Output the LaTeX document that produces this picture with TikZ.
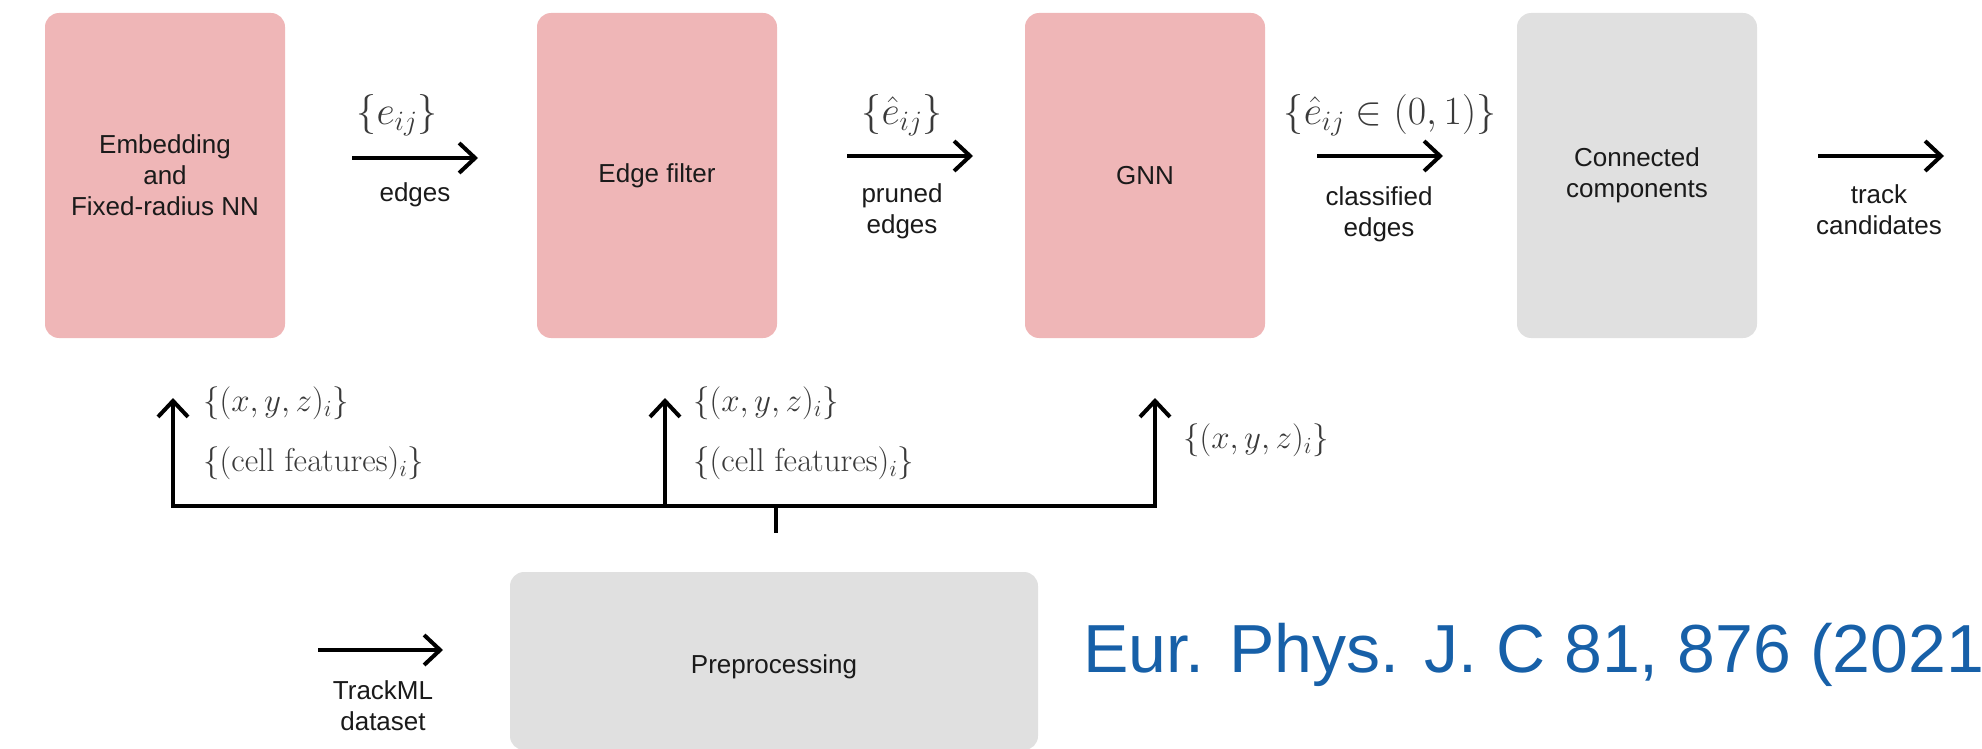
\documentclass[tikz,border=0pt]{standalone}
\usepackage{fix-cm}
\usepackage[no-math]{fontspec}
\newfontfamily\labelsans{Liberation Sans}
\usetikzlibrary{arrows.meta}
\definecolor{pinkbox}{HTML}{EFB6B7}
\definecolor{graybox}{HTML}{E0E0E0}
\definecolor{mathgray}{HTML}{3A3A3A}
\definecolor{citeblue}{HTML}{1760A8}
\definecolor{txt}{HTML}{1A1A1A}
\begin{document}
\begin{tikzpicture}[x=1pt,y=-1pt,
  stage/.style={rounded corners=14pt, minimum width=240pt, minimum height=325pt,
    inner sep=0pt, align=center, text=txt,
    font=\labelsans\fontsize{26}{31}\selectfont},
  pinkstage/.style={stage, fill=pinkbox},
  graystage/.style={stage, fill=graybox},
  flow/.style={line width=4pt, -{Straight Barb[length=16pt,width=30pt]}},
  feed/.style={line width=4.5pt},
  sanslab/.style={inner sep=0pt, align=center, text=txt,
    font=\labelsans\fontsize{26}{31}\selectfont},
  mathbig/.style={inner sep=0pt, text=mathgray, font=\fontsize{40}{48}\selectfont},
  mathsmall/.style={inner sep=0pt, text=mathgray, anchor=west, font=\fontsize{33}{40}\selectfont}
]
\useasboundingbox (0,0) rectangle (1982,749);

% stage boxes
\node[pinkstage] (emb)  at (165,175.5)  {Embedding\\and\\Fixed-radius NN};
\node[pinkstage] (filt) at (657,175.5)  {Edge filter};
\node[pinkstage] (gnn)  at (1145,175.5) {GNN};
\node[graystage] (cc)   at (1637,175.5) {Connected\\components};
\node[stage, fill=graybox, minimum width=528pt, minimum height=178pt] (prep) at (774,661) {\raisebox{-12pt}[0pt][0pt]{Preprocessing}};

% top flow arrows
\coordinate (a1s) at (352,158);  \coordinate (a1e) at (478,158);
\coordinate (a2s) at (847,156);  \coordinate (a2e) at (973,156);
\coordinate (a3s) at (1317,156); \coordinate (a3e) at (1443,156);
\coordinate (a4s) at (1818,156); \coordinate (a4e) at (1944,156);
\draw[flow] (a1s) -- (a1e);
\draw[flow] (a2s) -- (a2e);
\draw[flow] (a3s) -- (a3e);
\draw[flow] (a4s) -- (a4e);

\node[mathbig] (l1m) at (397,115) {$\{e_{ij}\}$};
\node[sanslab] (l1t) at (415,195) {edges};
\node[mathbig] (l2m) at (902,115) {$\{\hat{e}_{ij}\}$};
\node[sanslab] (l2t) at (902,211) {pruned\\edges};
\node[mathbig] (l3m) at (1390,115) {$\{\hat{e}_{ij}\in(0,1)\}$};
\node[sanslab] (l3t) at (1379,214) {classified\\edges};
\node[sanslab] (l4t) at (1879,210) {track\\candidates};

% feed lines from preprocessing
\coordinate (b1) at (173,506);
\coordinate (b2) at (665,506);
\coordinate (b3) at (1155,506);
\coordinate (t1) at (173,398);
\coordinate (t2) at (665,398);
\coordinate (t3) at (1155,398);
\coordinate (stemtop) at (776,506);
\coordinate (stembot) at (776,533);
\draw[feed, line cap=rect] (b1) -- (b3);
\draw[line width=3.5pt] (stemtop) -- (stembot);
\draw[flow] (b1) -- (t1);
\draw[flow] (b2) -- (t2);
\draw[flow] (b3) -- (t3);

\node[mathsmall] (x1) at (203,403) {$\{(x,y,z)_i\}$};
\node[mathsmall] (c1) at (203,463) {$\{(\mathrm{cell\ features})_i\}$};
\node[mathsmall] (x2) at (693,403) {$\{(x,y,z)_i\}$};
\node[mathsmall] (c2) at (693,463) {$\{(\mathrm{cell\ features})_i\}$};
\node[mathsmall] (x3) at (1183,440) {$\{(x,y,z)_i\}$};

% input
\coordinate (ins) at (318,650);
\coordinate (ine) at (443,650);
\draw[flow] (ins) -- (ine);
\node[sanslab] (inl) at (383,706) {TrackML\\dataset};

% citation
\node[inner sep=0pt, anchor=base west, text=citeblue,
  font=\labelsans\fontsize{68}{80}\selectfont] (cite) at (1083,672) {Eur. Phys. J. C 81, 876 (2021};
\end{tikzpicture}
\end{document}
